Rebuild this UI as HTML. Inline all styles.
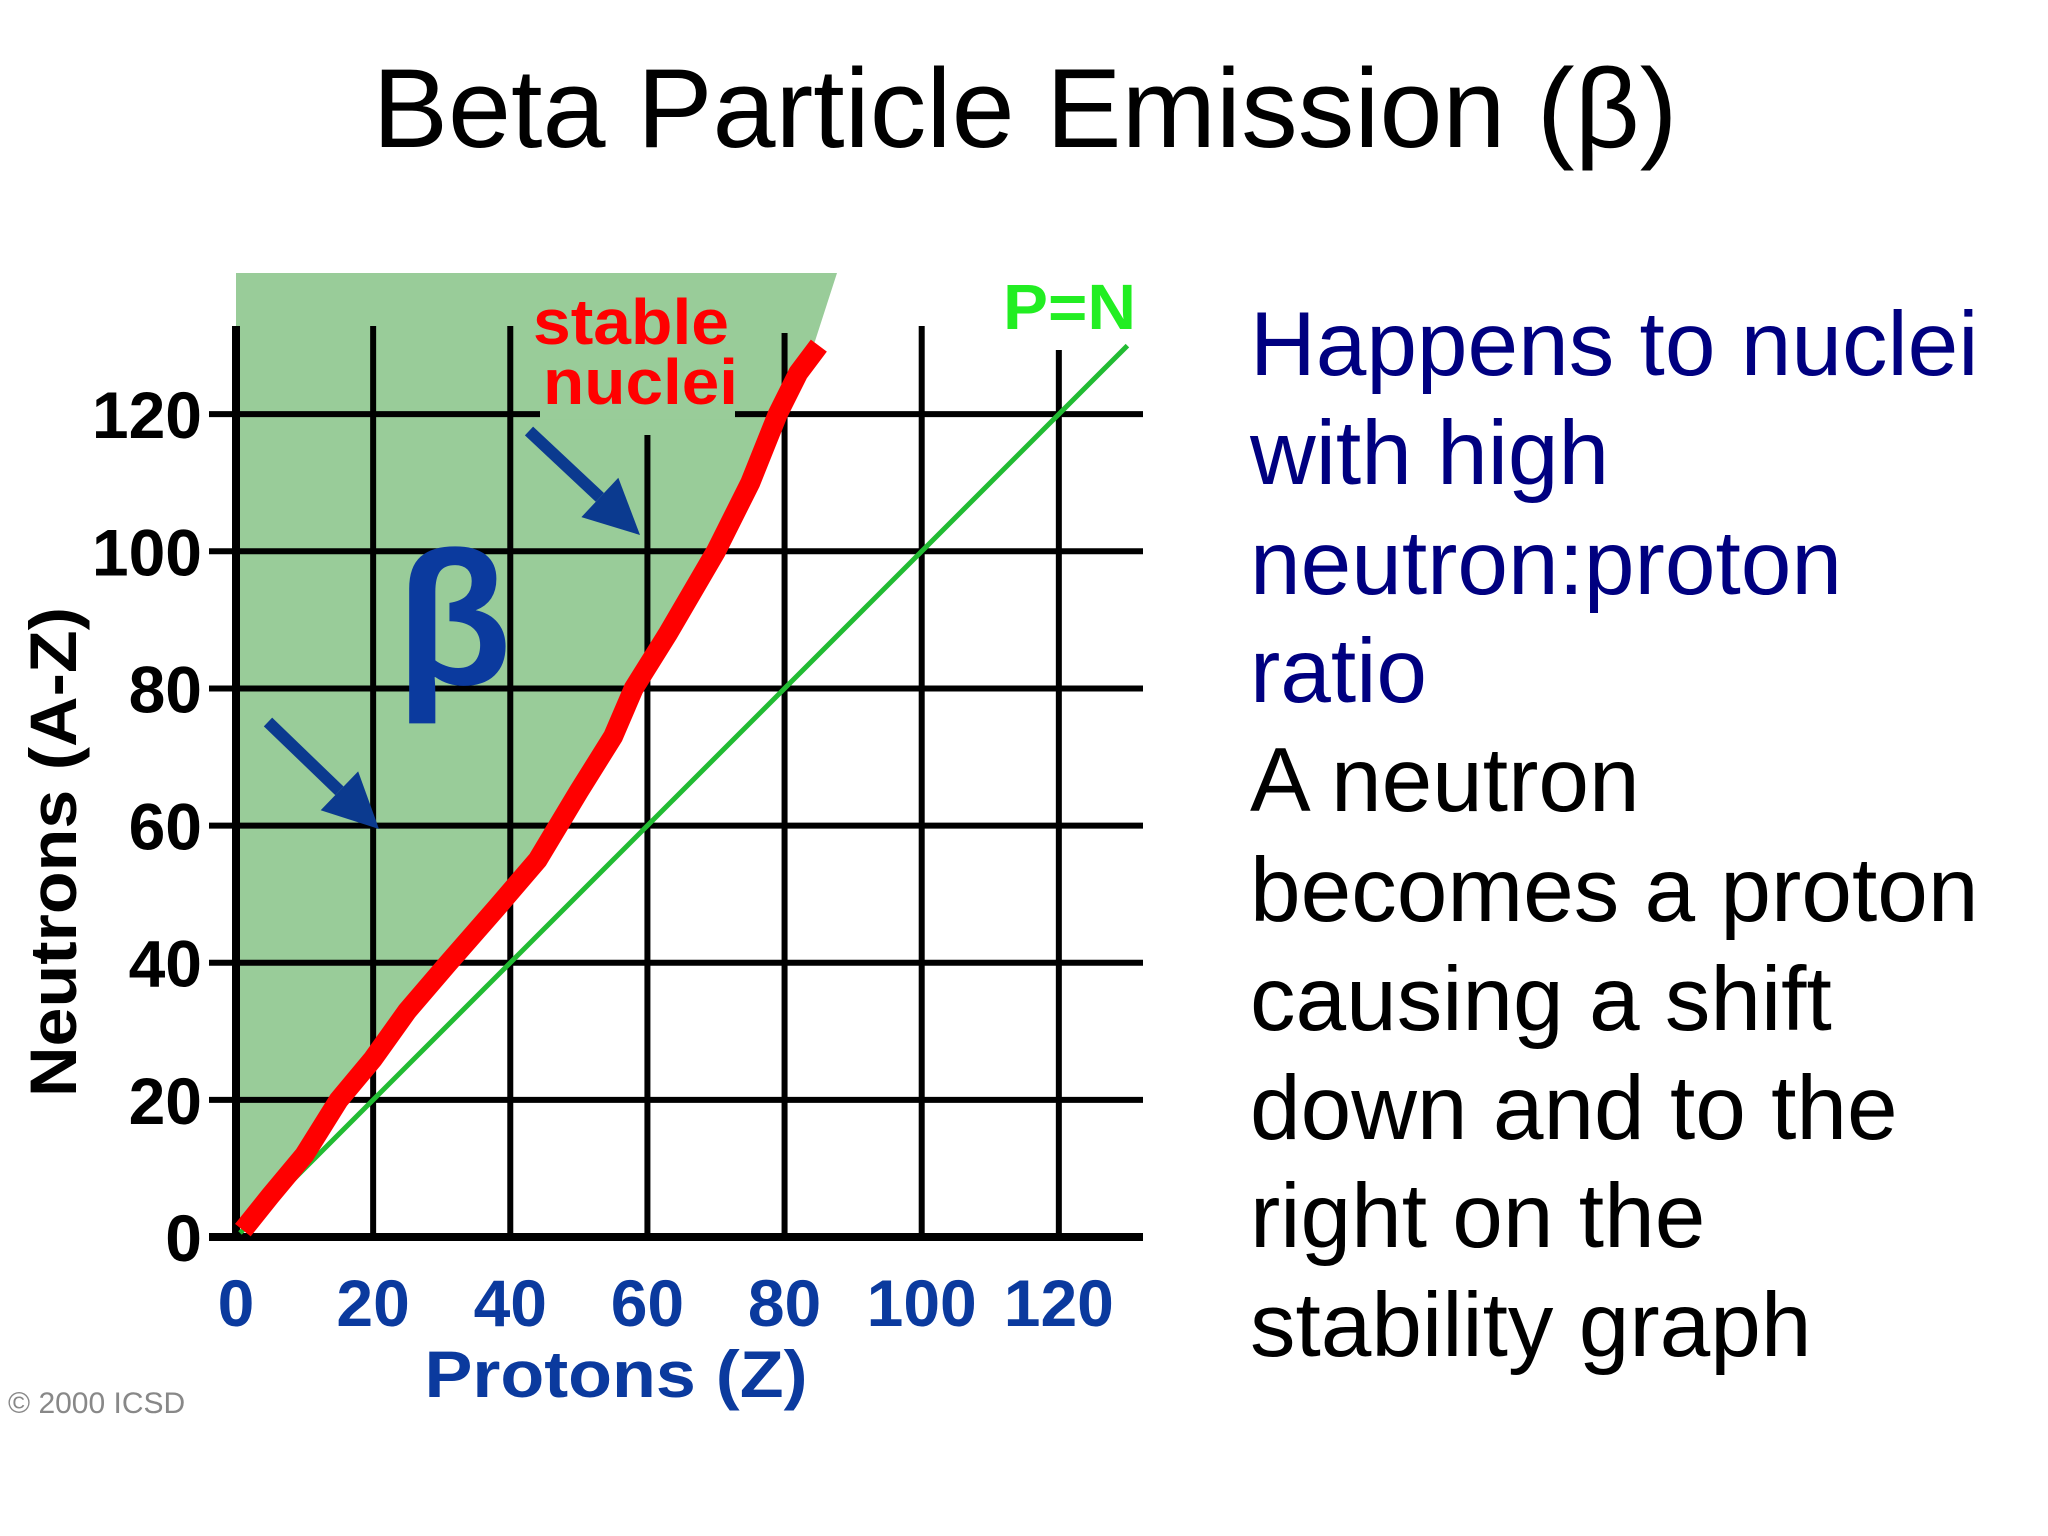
<!DOCTYPE html>
<html><head><meta charset="utf-8"><style>
html,body{margin:0;padding:0;background:#fff;}
svg{display:block;}
text{font-family:"Liberation Sans",sans-serif;}
</style></head><body>
<svg id="chart" width="2048" height="1536" viewBox="0 0 2048 1536" xmlns="http://www.w3.org/2000/svg">
<text x="1025" y="147" font-size="112" text-anchor="middle" fill="#000" textLength="1305" lengthAdjust="spacingAndGlyphs">Beta Particle Emission (β)</text>
<g id="plot"></g>
<g font-size="91">
<text x="1250" y="375" fill="#000080">Happens to nuclei</text>
<text x="1250" y="484" fill="#000080">with high</text>
<text x="1250" y="594" fill="#000080">neutron:proton</text>
<text x="1250" y="702" fill="#000080">ratio</text>
<text x="1250" y="811" fill="#000">A neutron</text>
<text x="1250" y="921" fill="#000">becomes a proton</text>
<text x="1250" y="1030" fill="#000">causing a shift</text>
<text x="1250" y="1139" fill="#000">down and to the</text>
<text x="1250" y="1247" fill="#000">right on the</text>
<text x="1250" y="1356" fill="#000">stability graph</text>
</g>
</svg>
<script>
const xTicks=[0,20,40,60,80,100,120];
const yTicks=[0,20,40,60,80,100,120];
const bandZ=[1,5,10,15,20,25,31,38,44,47,50,55,58,63,70,75,79,82,85];
const bandN=[1,6,12,20,26,33,40,48,55,60,65,73,80,88,100,110,120,126,130];
const pnLine=[0,130];
const X0=236,Y0=1237,U=6.857;
const sx=v=>X0+v*U, sy=v=>Y0-v*U;
const NS='http://www.w3.org/2000/svg';
const g=document.getElementById('plot');
function mk(tag,attrs,parent){const e=document.createElementNS(NS,tag);for(const k in attrs)e.setAttribute(k,attrs[k]);(parent||g).appendChild(e);return e;}
let pts=[[236,273],[837,273]];
for(let i=bandZ.length-1;i>=0;i--)pts.push([sx(bandZ[i])-4,sy(bandN[i])-4]);
pts.push([236,1237]);
const region=mk('polygon',{points:pts.map(p=>p.join(',')).join(' '),fill:'#99cc99'});


const vTop=[326,326,326,435,333,326,350];
xTicks.forEach((t,i)=>{const l=mk('line',{x1:sx(t),x2:sx(t),y1:i==0?326:vTop[i],y2:Y0,stroke:'#000','stroke-width':i==0?8:6});

});
yTicks.forEach((t,i)=>{const l=mk('line',{x1:209,x2:1143,y1:sy(t),y2:sy(t),stroke:'#000','stroke-width':i==0?8:6});

});
const gap=mk('rect',{x:540,y:sy(120)-5,width:195,height:10,fill:'#99cc99'});


const pn=mk('line',{x1:sx(pnLine[0])+4,y1:sy(pnLine[0])-4,x2:sx(pnLine[1]),y2:sy(pnLine[1]),stroke:'#22bb33','stroke-width':5});


const band=mk('polyline',{points:bandZ.map((z,i)=>sx(z)+','+sy(bandN[i])).join(' '),fill:'none',stroke:'#ff0000','stroke-width':20,'stroke-linejoin':'round','stroke-linecap':'butt'});


xTicks.forEach(t=>{const e=mk('text',{x:sx(t),y:1326,'font-size':66,'font-weight':'bold','text-anchor':'middle',fill:'#0b3a9e'});e.textContent=t;

});
yTicks.forEach(t=>{const e=mk('text',{x:202,y:sy(t)+24,'font-size':66,'font-weight':'bold','text-anchor':'end',fill:'#000'});e.textContent=t;

});
let e=mk('text',{x:616,y:1397,'font-size':66,'font-weight':'bold','text-anchor':'middle',fill:'#0b3a9e',textLength:383,lengthAdjust:'spacingAndGlyphs'});e.textContent='Protons  (Z)';


e=mk('text',{x:0,y:0,'font-size':66,'font-weight':'bold','text-anchor':'middle',fill:'#000',textLength:490,lengthAdjust:'spacingAndGlyphs',transform:'translate(76,852) rotate(-90)'});e.textContent='Neutrons  (A-Z)';


e=mk('text',{x:533,y:344,'font-size':64,'font-weight':'bold',fill:'#ff0000',textLength:196,lengthAdjust:'spacingAndGlyphs'});e.textContent='stable';


e=mk('text',{x:543,y:404,'font-size':64,'font-weight':'bold',fill:'#ff0000',textLength:195,lengthAdjust:'spacingAndGlyphs'});e.textContent='nuclei';


e=mk('text',{x:1003,y:329,'font-size':64,'font-weight':'bold',fill:'#22ee22',textLength:133,lengthAdjust:'spacingAndGlyphs'});e.textContent='P=N';


e=mk('text',{x:396,y:684,'font-size':190,'font-weight':'bold',fill:'#0b3a9e','font-family':'Liberation Serif, serif'});e.textContent='β';


e=mk('text',{x:8,y:1413,'font-size':30,fill:'#888'});e.textContent='© 2000 ICSD';


[[268,722,379,829],[529,431,640,535]].forEach((a,i)=>{
 const [x1,y1,x2,y2]=a;const ang=Math.atan2(y2-y1,x2-x1);const L=55,W=27;
 const bx=x2-L*Math.cos(ang),by=y2-L*Math.sin(ang);
 const ln=mk('line',{x1,y1,x2:bx,y2:by,stroke:'#0b3a8f','stroke-width':12});
 
 
 const px=-Math.sin(ang)*W,py=Math.cos(ang)*W;
 const hd=mk('polygon',{points:`${x2},${y2} ${bx+px},${by+py} ${bx-px},${by-py}`,fill:'#0b3a8f'});
 
 
});
</script>
</body></html>
